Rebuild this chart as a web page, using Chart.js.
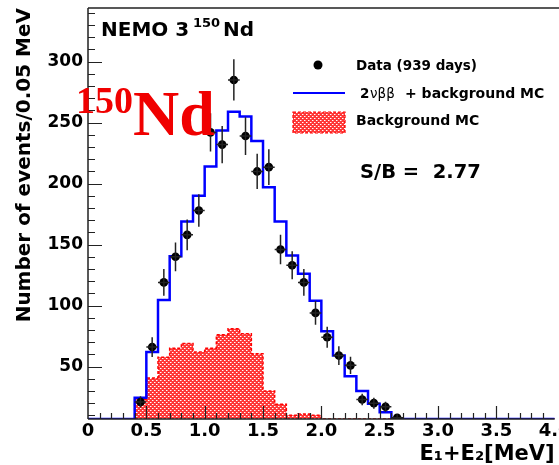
<!DOCTYPE html>
<html>
<head>
<meta charset="utf-8">
<script src="https://cdn.jsdelivr.net/npm/chart.js@4.4.1/dist/chart.umd.min.js"></script>
<style>
  html, body { margin: 0; padding: 0; background: #fff; }
</style>
</head>
<body>
<canvas id="ndChart" width="559" height="465"></canvas>
<script>
// 0.1 MeV bins, lower edges
const binLow = [0.0, 0.1, 0.2, 0.3, 0.4, 0.5, 0.6, 0.7, 0.8, 0.9,
                1.0, 1.1, 1.2, 1.3, 1.4, 1.5, 1.6, 1.7, 1.8, 1.9,
                2.0, 2.1, 2.2, 2.3, 2.4, 2.5, 2.6, 2.7, 2.8, 2.9,
                3.0, 3.1, 3.2, 3.3, 3.4, 3.5, 3.6, 3.7, 3.8, 3.9];
const binTop = 4.0;

// 2vbb + background MC (blue histogram)
const mcTotal = [0, 0, 0, 0, 24.5, 62, 104.6, 140.5, 169, 190,
                 214, 243.5, 259, 255, 235, 197, 169, 141, 126, 104,
                 79, 59, 42, 30, 19.6, 12.5, 4, 1, 0, 0,
                 0, 0, 0, 0, 0, 0, 0, 0, 0, 0];

// background MC (red hatched)
const mcBackground = [0, 0, 0, 0, 23, 40.6, 57.7, 65, 69, 62,
                      65, 76, 81, 77, 60.5, 30, 19, 10, 11, 10,
                      0, 0, 0, 0, 0, 0, 0, 0, 0, 0,
                      0, 0, 0, 0, 0, 0, 0, 0, 0, 0];

// data (939 days)
const dataE = [0.45, 0.55, 0.65, 0.75, 0.85, 0.95, 1.05, 1.15, 1.25, 1.35,
               1.45, 1.55, 1.65, 1.75, 1.85, 1.95, 2.05, 2.15, 2.25, 2.35,
               2.45, 2.55, 2.65];
const dataN = [21, 66, 119, 140, 158, 178, 242, 232, 285, 239,
               210, 213.5, 146, 133, 119, 94, 74, 59, 51, 23,
               20, 17, 8];
const dataErr = [4.6, 8.1, 10.9, 11.8, 12.6, 13.3, 15.6, 15.2, 16.9, 15.5,
                 14.5, 14.6, 12.1, 11.5, 10.9, 9.7, 8.6, 7.7, 7.1, 4.8,
                 4.5, 4.1, 2.8];

const xTicks = [0, 0.5, 1, 1.5, 2, 2.5, 3, 3.5, 4];
const yTicks = [50, 100, 150, 200, 250, 300];
const yMin = 7, yMax = 344;

const FONT = "DejaVu Sans";

// histogram -> step line points (clamped at the axis floor like ROOT does)
function stepPoints(vals) {
  const pts = binLow.map((x, i) => ({ x: x, y: Math.max(vals[i], yMin) }));
  pts.push({ x: binTop, y: Math.max(vals[vals.length - 1], yMin) });
  return pts;
}

function makeHatch() {
  const c = document.createElement("canvas");
  c.width = 4; c.height = 4;
  const g = c.getContext("2d");
  g.fillStyle = "rgb(255,55,55)";
  g.fillRect(0, 0, 4, 4);
  g.fillStyle = "#fff";
  g.fillRect(0, 0, 1, 1); g.fillRect(2, 2, 1, 1);
  g.fillStyle = "rgb(255,150,150)";
  g.fillRect(1, 0, 1, 1); g.fillRect(3, 2, 1, 1);
  return g.createPattern(c, "repeat");
}
const hatch = makeHatch();

// error bars on data points
const errorBars = {
  id: "errorBars",
  afterDatasetsDraw(chart) {
    const { ctx, scales: { x, y } } = chart;
    ctx.save();
    ctx.beginPath();
    ctx.rect(chart.chartArea.left, chart.chartArea.top, chart.chartArea.width, chart.chartArea.height);
    ctx.clip();
    ctx.strokeStyle = "#222";
    ctx.lineWidth = 1.5;
    dataE.forEach((e, i) => {
      const px = x.getPixelForValue(e);
      ctx.beginPath();
      ctx.moveTo(px, y.getPixelForValue(dataN[i] - dataErr[i]));
      ctx.lineTo(px, y.getPixelForValue(dataN[i] + dataErr[i]));
      const py = y.getPixelForValue(dataN[i]);
      ctx.moveTo(x.getPixelForValue(e - 0.05), py);
      ctx.lineTo(x.getPixelForValue(e + 0.05), py);
      ctx.stroke();
    });
    ctx.restore();
  }
};

// ROOT style frame with ticks pointing inwards
const rootFrame = {
  id: "rootFrame",
  afterDatasetsDraw(chart) {
    const { ctx, chartArea: a, scales: { x, y } } = chart;
    ctx.save();
    ctx.strokeStyle = "#222";
    ctx.lineWidth = 1.5;
    ctx.beginPath();
    ctx.moveTo(a.left, a.top); ctx.lineTo(a.left, a.bottom);
    ctx.moveTo(a.left, a.bottom); ctx.lineTo(a.right, a.bottom);
    ctx.moveTo(a.left, a.top); ctx.lineTo(chart.width, a.top);
    ctx.stroke();
    ctx.lineWidth = 1.2;
    ctx.beginPath();
    for (let v = 10; v < yMax; v += 10) {
      const py = Math.round(y.getPixelForValue(v)) + 0.5;
      const len = v % 50 === 0 ? 14 : 7;
      ctx.moveTo(a.left, py); ctx.lineTo(a.left + len, py);
    }
    for (let k = 1; k < 40; k++) {
      const px = Math.round(x.getPixelForValue(k / 10)) + 0.5;
      const len = k % 5 === 0 ? 13 : 6;
      ctx.moveTo(px, a.bottom); ctx.lineTo(px, a.bottom - len);
    }
    ctx.stroke();
    ctx.restore();
  }
};

// titles, legend, labels
const annotations = {
  id: "annotations",
  afterDraw(chart) {
    const ctx = chart.ctx;
    ctx.save();
    ctx.textBaseline = "alphabetic";
    ctx.textAlign = "left";
    ctx.fillStyle = "#000";

    ctx.font = `bold 20px "${FONT}"`;
    ctx.fillText("NEMO 3", 101, 36);
    ctx.font = `bold 13px "${FONT}"`;
    ctx.fillText("150", 193, 27);
    ctx.font = `bold 20px "${FONT}"`;
    ctx.fillText("Nd", 223, 36);

    // legend
    ctx.beginPath();
    ctx.arc(318, 65, 4.5, 0, Math.PI * 2);
    ctx.fill();
    ctx.font = `bold 13.5px "${FONT}"`;
    ctx.fillText("Data (939 days)", 356, 70);

    ctx.strokeStyle = "rgb(0,0,255)";
    ctx.lineWidth = 2;
    ctx.beginPath();
    ctx.moveTo(293, 93); ctx.lineTo(345, 93);
    ctx.stroke();
    ctx.font = `bold 13.5px "${FONT}"`;
    ctx.fillText("2", 360, 98);
    ctx.font = `13.5px "${FONT}"`;
    ctx.fillText("νββ", 370, 98);
    ctx.font = `bold 14px "${FONT}"`;
    ctx.fillText("+ background MC", 405, 98);

    ctx.fillStyle = hatch;
    ctx.fillRect(293, 112, 52, 21);
    ctx.strokeStyle = "rgb(255,0,0)";
    ctx.lineWidth = 1.2;
    ctx.setLineDash([3, 2]);
    ctx.strokeRect(293, 112, 52, 21);
    ctx.setLineDash([]);
    ctx.fillStyle = "#000";
    ctx.font = `bold 14px "${FONT}"`;
    ctx.fillText("Background MC", 356, 125);

    ctx.font = `bold 19.5px "${FONT}"`;
    ctx.fillText("S/B =  2.77", 360, 178);

    // big red isotope label
    ctx.fillStyle = "rgb(240,0,0)";
    ctx.font = `bold 38px "Liberation Serif"`;
    ctx.fillText("150", 76, 113);
    ctx.font = `bold 64px "Liberation Serif"`;
    ctx.fillText("Nd", 133, 135);
    ctx.restore();
  }
};

const chart = new Chart(document.getElementById("ndChart"), {
  type: "line",
  data: {
    datasets: [
      {
        label: "Data (939 days)",
        data: dataE.map((e, i) => ({ x: e, y: dataN[i] })),
        showLine: false,
        pointRadius: 4.3,
        pointBackgroundColor: "#000",
        pointBorderColor: "#000",
        pointBorderWidth: 0,
        order: 0
      },
      {
        label: "2vbb + background MC",
        data: stepPoints(mcTotal),
        stepped: true,
        borderColor: "rgb(0,0,255)",
        borderWidth: 2.5,
        pointRadius: 0,
        fill: false,
        order: 1
      },
      {
        label: "Background MC",
        data: stepPoints(mcBackground),
        stepped: true,
        borderColor: "rgb(255,0,0)",
        borderWidth: 1.5,
        borderDash: [3, 2],
        backgroundColor: hatch,
        pointRadius: 0,
        fill: "origin",
        order: 2
      }
    ]
  },
  options: {
    responsive: false,
    animation: false,
    devicePixelRatio: 1,
    layout: { padding: { top: 8, right: 2, left: 0, bottom: 0 } },
    plugins: { legend: { display: false }, tooltip: { enabled: false } },
    scales: {
      x: {
        type: "linear",
        min: 0,
        max: 4,
        afterBuildTicks: s => { s.ticks = xTicks.map(v => ({ value: v })); },
        afterFit: s => { s.height = 46; s.paddingLeft = 0; s.paddingRight = 0; },
        grid: { display: false, drawTicks: false },
        border: { display: false },
        ticks: {
          maxRotation: 0,
          autoSkip: false,
          padding: 2,
          color: "#000",
          font: { family: FONT, size: 18, weight: "bold" }
        },
        title: {
          display: true,
          text: "E₁+E₂[MeV]",
          align: "end",
          color: "#000",
          padding: 0,
          font: { family: FONT, size: 21, weight: "bold", lineHeight: 1 }
        }
      },
      y: {
        min: yMin,
        max: yMax,
        afterBuildTicks: s => { s.ticks = yTicks.map(v => ({ value: v })); },
        afterFit: s => { s.width = 88; s.paddingTop = 0; s.paddingBottom = 0; },
        grid: { display: false, drawTicks: false },
        border: { display: false },
        ticks: {
          padding: 5,
          color: "#000",
          font: { family: FONT, size: 17, weight: "bold" }
        },
        title: {
          display: true,
          text: "Number of events/0.05 MeV",
          align: "end",
          color: "#000",
          padding: { top: 13 },
          font: { family: FONT, size: 20, weight: "bold", lineHeight: 1.2 }
        }
      }
    }
  },
  plugins: [rootFrame, errorBars, annotations]
});
</script>
</body>
</html>
